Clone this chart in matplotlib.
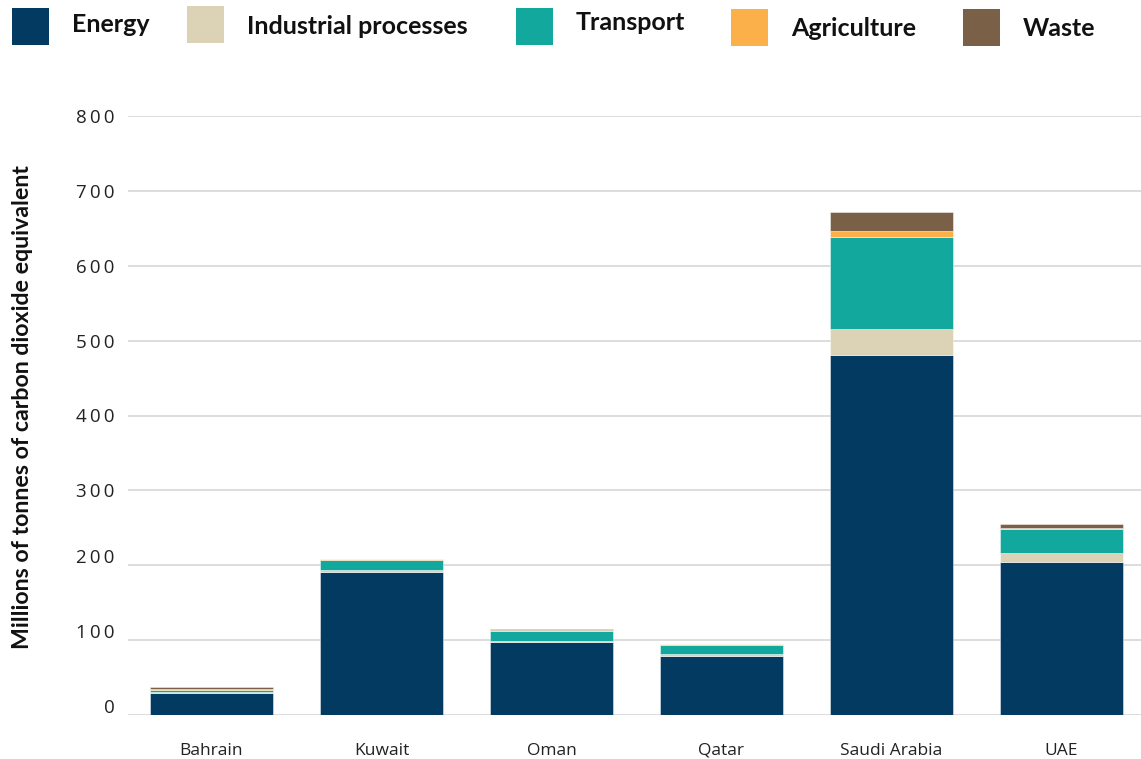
import matplotlib
matplotlib.use("Agg")
import matplotlib.pyplot as plt
import matplotlib.transforms as mtransforms
from matplotlib.patches import Rectangle
import numpy as np

countries = ["Bahrain", "Kuwait", "Oman", "Qatar", "Saudi Arabia", "UAE"]
energy = [30, 191, 97, 79, 481, 204]
industrial = [0.5, 3, 2, 3, 34, 12]
transport = [3.5, 13, 13, 11.5, 124, 32]
agriculture = [0.8, 1, 1.5, 1, 7, 2]
waste = [2, 1, 1, 0.5, 26, 4.5]

series_names = ["Energy", "Industrial processes", "Transport", "Agriculture", "Waste"]
series_values = [energy, industrial, transport, agriculture, waste]
colors = ["#023a62", "#dcd3b6", "#13a89e", "#fbb04a", "#7a6047"]
yticks = [0, 100, 200, 300, 400, 500, 600, 700, 800]

W, H = 1141, 759
fig = plt.figure(figsize=(W/100, H/100), dpi=100)
ax = fig.add_axes([128/W, 1-715/H, 1-128/W, (715-116)/H])

x = np.arange(len(countries))
bottom = np.zeros(len(countries))
for name, vals, c in zip(series_names, series_values, colors):
    v = np.array(vals, dtype=float)
    ax.bar(x, v, width=0.72, bottom=bottom, color=c, edgecolor=(1, 1, 1, 0.45),
           linewidth=0.7, zorder=3, label=name)
    bottom += v

ax.set_xlim(-0.491, 5.468)
ax.set_ylim(0, 800)
ax.set_yticks(yticks)
ax.set_yticklabels(["\u2009".join(str(t)) for t in yticks])
ax.set_xticks(x)
ax.set_xticklabels(countries)
for s in ax.spines.values():
    s.set_visible(False)
ax.grid(axis="y", color="#d3d3d3", linewidth=1.1, zorder=0)
ax.set_axisbelow(True)
ax.tick_params(axis="both", length=0)
ax.tick_params(axis="y", pad=9.5, labelsize=13.5, labelcolor="#222222")
ax.tick_params(axis="x", pad=20, labelsize=12.5, labelcolor="#222222")
for lab in ax.get_yticklabels() + ax.get_xticklabels():
    lab.set_fontfamily(["Open Sans", "DejaVu Sans"])

# lower tick labels sit slightly above their grid lines in the reference
for t, lab in zip(yticks, ax.get_yticklabels()):
    if t <= 200:
        off = mtransforms.ScaledTranslation(0, 9/100, fig.dpi_scale_trans)
        lab.set_transform(lab.get_transform() + off)

fig.text(23/W, 1-407/H, "Millions of tonnes of carbon dioxide equivalent",
         rotation=90, ha="center", va="center", fontsize=16.7, fontweight="bold",
         family="Lato", color="#111111")

# legend: coloured squares with bold labels
sq_x = [12, 187, 516, 731, 963]
sq_y = [8, 6, 8, 9, 9]
txt_y = [25, 27, 23, 29, 29]
sq = 37
for name, c, sx, sy, ty in zip(series_names, colors, sq_x, sq_y, txt_y):
    fig.patches.append(Rectangle((sx/W, 1-(sy+sq)/H), sq/W, sq/H, transform=fig.transFigure,
                                 facecolor=c, edgecolor="none"))
    fig.text((sx+sq+23)/W, 1-ty/H, name, ha="left", va="center", fontsize=18,
             fontweight="bold", family="Lato", color="#111111")

fig.savefig("out.png", dpi=100)
